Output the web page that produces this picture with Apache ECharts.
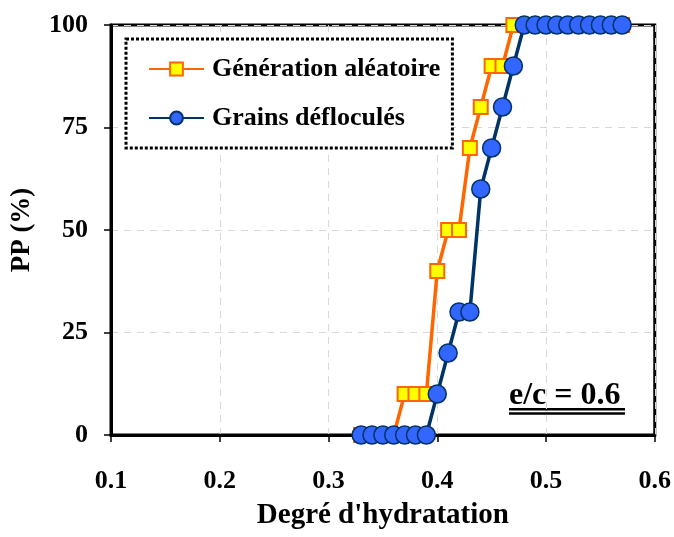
<!DOCTYPE html>
<html><head><meta charset="utf-8">
<script src="https://cdn.jsdelivr.net/npm/echarts@6/dist/echarts.min.js"></script>
<style>html,body{margin:0;padding:0;background:#fff}#c{width:674px;height:537px}</style>
</head><body><div id="c"></div>
<script>
var xGen = [0.33,0.34,0.35,0.36,0.37,0.38,0.39,0.40,0.41,0.42,0.43,0.44,0.45,0.46,0.47,0.48,0.49,0.50,0.51,0.52,0.53,0.54,0.55,0.56,0.57];
var yGen = [0,0,0,0,10,10,10,40,50,50,70,80,90,90,100,100,100,100,100,100,100,100,100,100,100];
var xDef = [0.33,0.34,0.35,0.36,0.37,0.38,0.39,0.40,0.41,0.42,0.43,0.44,0.45,0.46,0.47,0.48,0.49,0.50,0.51,0.52,0.53,0.54,0.55,0.56,0.57];
var yDef = [0,0,0,0,0,0,0,10,20,30,30,60,70,80,90,100,100,100,100,100,100,100,100,100,100];
var seriesNames = ['Génération aléatoire','Grains défloculés'];
var xTitle = "Degré d'hydratation";
var yTitle = 'PP (%)';
var note = 'e/c = 0.6';

function pairs(xs, ys){ return xs.map(function(x,i){return [x, ys[i]];}); }
var serif = '"Liberation Serif", "DejaVu Serif", serif';
var chart = echarts.init(document.getElementById('c'));
chart.setOption({
  animation:false,
  grid:{left:111,right:19,top:25,bottom:102,show:true,borderColor:'#000',borderWidth:3,backgroundColor:'transparent'},
  xAxis:{type:'value',min:0.1,max:0.6,interval:0.1,
    name:xTitle,nameLocation:'middle',nameGap:66,
    nameTextStyle:{fontFamily:serif,fontWeight:'bold',fontSize:29,color:'#000'},
    axisLine:{show:true,lineStyle:{color:'#000',width:3}},
    axisTick:{show:true,inside:false,length:7,lineStyle:{color:'#000',width:1.5}},
    axisLabel:{fontFamily:serif,fontWeight:'bold',fontSize:26,color:'#000',margin:33,
      formatter:function(v){return v.toFixed(1);}},
    splitLine:{show:true,lineStyle:{color:'#d8d8d8',type:[7,6],width:1}}},
  yAxis:{type:'value',min:0,max:100,interval:25,
    name:yTitle,nameLocation:'middle',nameGap:75,
    nameTextStyle:{fontFamily:serif,fontWeight:'bold',fontSize:27,color:'#000'},
    axisLine:{show:true,lineStyle:{color:'#000',width:3}},
    axisTick:{show:true,inside:false,length:7,lineStyle:{color:'#000',width:1.5}},
    axisLabel:{fontFamily:serif,fontWeight:'bold',fontSize:26,color:'#000',margin:23},
    splitLine:{show:true,lineStyle:{color:'#d8d8d8',type:[7,6],width:1}}},
  legend:{orient:'vertical',left:126,top:39,padding:[17,12,17,22],itemGap:23,
    itemWidth:55,itemHeight:16,backgroundColor:'#fff',borderColor:'#000',borderWidth:3,
    borderType:[3,2],
    textStyle:{fontFamily:serif,fontSize:26,fontWeight:'bold',color:'#000',padding:[0,0,0,3]},
    data:seriesNames},
  series:[
    {name:seriesNames[0],type:'line',data:pairs(xGen,yGen),symbol:'rect',symbolSize:14,
      lineStyle:{color:'#ff6600',width:3.5},itemStyle:{color:'#ffff00',borderColor:'#ff6600',borderWidth:2},z:2},
    {name:seriesNames[1],type:'line',data:pairs(xDef,yDef),symbol:'circle',symbolSize:18,
      lineStyle:{color:'#003366',width:3.5},itemStyle:{color:'#3366ff',borderColor:'#003366',borderWidth:1.5},z:3}
  ],
  graphic:[
    {type:'text',left:509,top:380,style:{text:note,fontFamily:serif,fontWeight:'bold',fontSize:32,fill:'#000'}},
    {type:'rect',shape:{x:509,y:408,width:116,height:2.5},style:{fill:'#000'}},
    {type:'rect',shape:{x:509,y:412.3,width:116,height:2.5},style:{fill:'#000'}}
  ]
});
</script></body></html>
